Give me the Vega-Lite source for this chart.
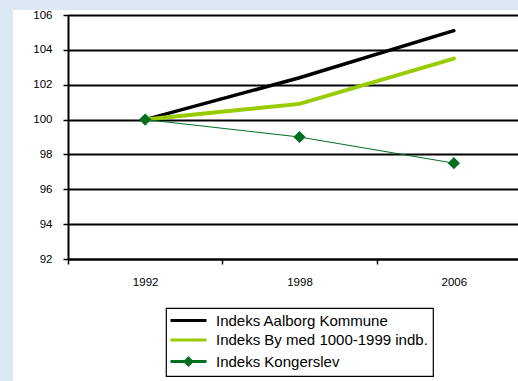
{
  "$schema": "https://vega.github.io/schema/vega-lite/v6.json",
  "width": 505,
  "height": 371,
  "autosize": {"type": "none"},
  "padding": {"left": 13, "top": 10, "right": 0, "bottom": 0},
  "background": "#dce9f4",
  "config": {
    "view": {"fill": "white", "stroke": null},
    "font": "Liberation Sans"
  },
  "data": {
    "values": [
      {"year": "1992", "series": "Indeks Aalborg Kommune", "value": 100},
      {"year": "1998", "series": "Indeks Aalborg Kommune", "value": 102.4},
      {"year": "2006", "series": "Indeks Aalborg Kommune", "value": 105.1},
      {"year": "1992", "series": "Indeks By med 1000-1999 indb.", "value": 100},
      {"year": "1998", "series": "Indeks By med 1000-1999 indb.", "value": 100.9},
      {"year": "2006", "series": "Indeks By med 1000-1999 indb.", "value": 103.5},
      {"year": "1992", "series": "Indeks Kongerslev", "value": 100},
      {"year": "1998", "series": "Indeks Kongerslev", "value": 99.0},
      {"year": "2006", "series": "Indeks Kongerslev", "value": 97.5}
    ]
  },
  "encoding": {
    "x": {
      "field": "year",
      "type": "ordinal",
      "sort": null,
      "scale": {"type": "band", "domain": ["1992", "1998", "2006"], "range": [55, 518], "paddingInner": 0, "paddingOuter": 0},
      "axis": {
        "title": null,
        "offset": -122,
        "tickBand": "extent",
        "labelAngle": 0,
        "labelFont": "Liberation Sans",
        "labelFontSize": 11.5,
        "labelColor": "black",
        "labelPadding": 12,
        "tickSize": 5,
        "tickColor": "black",
        "tickWidth": 1.5,
        "domainColor": "black",
        "domainWidth": 2,
        "grid": false
      }
    },
    "y": {
      "field": "value",
      "type": "quantitative",
      "scale": {"domain": [92, 106], "range": [249, 5], "nice": false, "zero": false},
      "axis": {
        "title": null,
        "offset": -55,
        "values": [92, 94, 96, 98, 100, 102, 104, 106],
        "labelFont": "Liberation Sans",
        "labelFontSize": 11.5,
        "labelColor": "black",
        "labelPadding": 11,
        "tickSize": 5,
        "tickColor": "black",
        "tickWidth": 1.5,
        "domainColor": "black",
        "domainWidth": 2,
        "grid": true,
        "gridColor": "black",
        "gridWidth": 1.8,
        "gridOpacity": 1
      }
    }
  },
  "layer": [
    {
      "transform": [{"filter": "datum.series === 'Indeks Aalborg Kommune'"}],
      "mark": {"type": "line", "strokeCap": "round", "strokeWidth": 3.5},
      "encoding": {
        "color": {
          "field": "series",
          "type": "nominal",
          "scale": {
            "domain": ["Indeks Aalborg Kommune", "Indeks By med 1000-1999 indb.", "Indeks Kongerslev"],
            "range": ["#000000", "#99cc00", "#007020"]
          },
          "legend": {
            "orient": "none",
            "legendX": 153,
            "legendY": 298,
            "title": null,
            "fillColor": "white",
            "strokeColor": "black",
            "padding": 5,
            "symbolType": "M-3,0H3",
            "symbolSize": 144,
            "symbolStrokeWidth": 3,
            "symbolOffset": 10,
            "labelFont": "Liberation Sans",
            "labelFontSize": 15,
            "labelColor": "black",
            "labelOffset": 20,
            "labelLimit": 400,
            "rowPadding": 3.5,
            "encode": {
              "legend": {"update": {"strokeWidth": {"value": 1.2}}},
              "symbols": {
                "update": {
                  "shape": {"signal": "datum.value === 'Indeks Kongerslev' ? 'M-3,0H3M0,-0.55L0.55,0L0,0.55L-0.55,0Z' : 'M-3,0H3'"},
                  "fill": {"scale": "color", "field": "value"},
                  "stroke": {"scale": "color", "field": "value"},
                  "strokeWidth": {"value": 3},
                  "opacity": {"value": 1}
                }
              }
            }
          }
        }
      }
    },
    {
      "transform": [{"filter": "datum.series === 'Indeks By med 1000-1999 indb.'"}],
      "mark": {"type": "line", "strokeCap": "round", "strokeWidth": 4, "color": "#99cc00"}
    },
    {
      "transform": [{"filter": "datum.series === 'Indeks Kongerslev'"}],
      "mark": {"type": "line", "strokeWidth": 1, "color": "#007020"}
    },
    {
      "transform": [{"filter": "datum.series === 'Indeks Kongerslev'"}],
      "mark": {"type": "point", "shape": "diamond", "filled": true, "size": 150, "color": "#007020", "opacity": 1}
    }
  ]
}
